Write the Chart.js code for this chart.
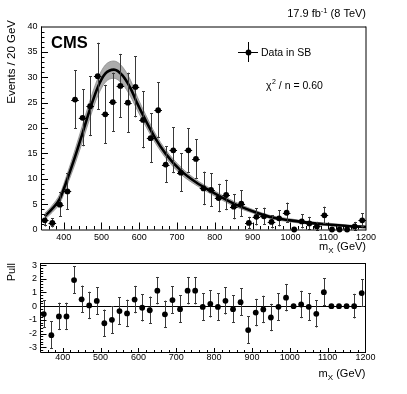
<!DOCTYPE html>
<html><head><meta charset="utf-8">
<script src="https://cdn.jsdelivr.net/npm/chart.js@4"></script>
<style>
html,body{margin:0;padding:0;background:#fff;}
#wrap{position:relative;width:407px;height:394px;overflow:hidden;}
#c1{position:absolute;left:0;top:0;}
#c2{position:absolute;left:0;top:252px;}
</style></head><body>
<div id="wrap"><canvas id="c1" width="407" height="258"></canvas><canvas id="c2" width="407" height="142"></canvas></div>
<script>
// ---- data ----
const binCenters = [350,370,390,410,430,450,470,490,510,530,550,570,590,610,630,650,670,690,710,730,750,770,790,810,830,850,870,890,910,930,950,970,990,1010,1030,1050,1070,1090,1110,1130,1150,1170,1190];
const counts = [1.8,1.3,4.9,7.5,25.6,22.0,24.3,30.2,22.7,25.1,28.3,25.0,28.1,21.6,18.0,23.5,12.8,15.6,11.2,15.6,13.9,8.1,7.8,6.2,6.8,4.5,5.1,1.3,2.5,2.6,1.5,2.2,3.3,0,1.6,1.2,0.6,2.8,0,0,0,0.6,1.8];
const countErr = [1.2,0.9,2.4,3.6,5.8,5.6,5.9,6.6,5.8,5.8,6.3,5.9,6.0,5.6,4.9,5.5,3.6,4.5,3.8,4.4,3.9,3.3,3.3,2.8,3.0,2.5,2.6,1.2,1.7,1.7,1.3,1.6,2.0,0,1.4,1.3,0.9,1.7,0,0,0,0.9,1.4];
const binHalfWidth = 10;
const fitMass = [350,370,390,410,430,450,470,490,510,533,555,577,595,617,643,670,710,750,790,850,900,950,1000,1050,1100,1150,1200];
const fitValues = [2.6,4.1,6.1,10.0,14.3,19.0,23.8,28.0,30.7,31.5,30.4,27.8,24.8,21.5,17.9,14.9,11.6,9.3,7.5,5.1,3.6,2.4,1.8,1.3,1.0,0.7,0.5];
const bandUpper = [3.2,4.8,7.0,11.1,15.7,20.6,25.5,29.7,32.4,33.2,32.1,29.4,26.1,22.6,18.8,15.7,12.3,9.85,8.0,5.55,3.95,2.7,2.1,1.55,1.25,0.9,0.7];
const bandLower = [2.0,3.4,5.2,8.9,12.9,17.4,22.1,26.3,29.0,29.8,28.7,26.2,23.5,20.4,17.0,14.1,10.9,8.75,7.0,4.65,3.25,2.1,1.5,1.05,0.75,0.5,0.3];
const pulls = [-0.58,-2.12,-0.75,-0.75,1.9,0.5,0.05,0.38,-1.25,-1.0,-0.36,-0.53,0.48,-0.12,-0.3,1.13,-0.6,0.44,-0.22,1.13,1.13,-0.06,0.17,-0.06,0.39,-0.22,0.29,-1.75,-0.47,-0.24,-0.83,-0.05,0.62,0,0.12,-0.05,-0.56,1.02,0,0,0,0,0.95];
const pullErr = [1,1,1,1,1,1,1,1,1,1,1,1,1,1,1,1,1,1,1,1,1,1,1,1,1,1,1,1,1,1,1,1,1,0,1,1,1,1,0,0,0,0.9,1];
const xTickLabels = [400,500,600,700,800,900,1000,1100,1200];
const yTickLabels = [0,5,10,15,20,25,30,35,40];
const pullTickLabels = [-3,-2,-1,0,1,2,3];

const FONT = '"Liberation Sans", Arial, Helvetica, sans-serif';

function pts(xs, ys){ return xs.map((v,i)=>({x:v,y:ys[i]})); }

function drawTicks(chart, o){
  const {ctx, chartArea:a, scales:{x,y}} = chart;
  ctx.save();
  ctx.strokeStyle = '#000'; ctx.lineWidth = 1;
  for(let k=Math.ceil(x.min/o.xMinor); k*o.xMinor<=x.max; k++){
    const v=k*o.xMinor; if(v<=x.min||v>=x.max) continue;
    const px=Math.round(x.getPixelForValue(v))+0.5;
    const len=(v%o.xMajor===0)?o.xMajLen:o.xMinLen;
    ctx.beginPath(); ctx.moveTo(px,a.bottom); ctx.lineTo(px,a.bottom-len); ctx.stroke();
  }
  for(let k=Math.ceil(y.min/o.yMinor-1e-9); k*o.yMinor<=y.max+1e-9; k++){
    const v=k*o.yMinor; if(v<=y.min+1e-9||v>=y.max-1e-9) continue;
    const r=v/o.yMajor; const major=Math.abs(r-Math.round(r))<1e-6;
    const py=Math.round(y.getPixelForValue(v))+0.5;
    ctx.beginPath(); ctx.moveTo(a.left,py); ctx.lineTo(a.left+(major?o.yMajLen:o.yMinLen),py); ctx.stroke();
  }
  ctx.beginPath();
  ctx.moveTo(a.left+0.5,a.top); ctx.lineTo(a.left+0.5,a.bottom+0.5); ctx.lineTo(a.right,a.bottom+0.5);
  ctx.stroke();
  ctx.beginPath(); ctx.moveTo(a.left,a.top+0.5); ctx.lineTo(a.right,a.top+0.5); ctx.stroke();
  ctx.beginPath(); ctx.moveTo(a.right,a.top); ctx.lineTo(a.right,a.bottom+1); ctx.stroke();
  ctx.fillStyle='#000';
  ctx.font = '9px '+FONT;
  ctx.textAlign='center'; ctx.textBaseline='middle';
  o.xLabels.forEach(v=>{ ctx.fillText(String(v), x.getPixelForValue(v), o.xLabelY); });
  ctx.textAlign='right';
  o.yLabels.forEach(v=>{ ctx.fillText(String(v), o.yLabelX, y.getPixelForValue(v)); });
  ctx.restore();
}

function drawMx(ctx, right, base){
  ctx.save();
  ctx.fillStyle='#000'; ctx.textBaseline='alphabetic'; ctx.textAlign='left';
  const f1='11px '+FONT, f2='8px '+FONT;
  ctx.font=f1; const w1=ctx.measureText('m').width, w3=ctx.measureText(' (GeV)').width;
  ctx.font=f2; const w2=ctx.measureText('X').width;
  let x0=right-(w1+w2+w3);
  ctx.font=f1; ctx.fillText('m',x0,base);
  ctx.font=f2; ctx.fillText('X',x0+w1,base+3);
  ctx.font=f1; ctx.fillText(' (GeV)',x0+w1+w2,base);
  ctx.restore();
}

function drawVTitle(ctx, text, xBase, yTop, size){
  ctx.save();
  ctx.translate(xBase,yTop); ctx.rotate(-Math.PI/2);
  ctx.font=size+'px '+FONT; ctx.fillStyle='#000'; ctx.textAlign='right'; ctx.textBaseline='alphabetic';
  ctx.fillText(text,0,0);
  ctx.restore();
}

function drawErrorBars(chart, xs, ys, es, hw, cap, color){
  const {ctx, scales:{x,y}} = chart;
  ctx.save();
  ctx.strokeStyle=color; ctx.lineWidth=1;
  xs.forEach((m,i)=>{
    const px=Math.round(x.getPixelForValue(m))+0.5;
    const py=y.getPixelForValue(ys[i]);
    if(es[i]>0){
      const t=y.getPixelForValue(ys[i]+es[i]), b=y.getPixelForValue(ys[i]-es[i]);
      ctx.beginPath(); ctx.moveTo(px,t); ctx.lineTo(px,b); ctx.stroke();
      ctx.beginPath(); ctx.moveTo(px-cap,Math.round(t)+0.5); ctx.lineTo(px+cap,Math.round(t)+0.5);
      ctx.moveTo(px-cap,Math.round(b)-0.5); ctx.lineTo(px+cap,Math.round(b)-0.5); ctx.stroke();
    }
    if(hw>0 && es[i]>0){
      const l=x.getPixelForValue(m-hw), r=x.getPixelForValue(m+hw);
      ctx.strokeStyle='#000';
      ctx.beginPath(); ctx.moveTo(l,Math.round(py)+0.5); ctx.lineTo(r,Math.round(py)+0.5); ctx.stroke();
      ctx.strokeStyle=color;
    }
  });
  ctx.restore();
}

const topPlugin = {
  id:'topDeco',
  beforeDatasetDraw(chart,args){
    if(args.index===3) drawErrorBars(chart, binCenters, counts, countErr, binHalfWidth, 1.5, '#3a3a3a');
  },
  afterDraw(chart){
    const ctx=chart.ctx;
    drawTicks(chart,{xMinor:20,xMajor:100,xMajLen:7,xMinLen:3.5,yMinor:1,yMajor:5,yMajLen:7,yMinLen:3.5,
      xLabels:xTickLabels,yLabels:yTickLabels,xLabelY:237.5,yLabelX:37.5});
    drawMx(ctx,366,250);
    drawVTitle(ctx,'Events / 20 GeV',14.5,20,11.5);
    ctx.save();
    ctx.fillStyle='#000';
    ctx.font='bold 16.5px '+FONT; ctx.textAlign='left'; ctx.textBaseline='alphabetic';
    ctx.fillText('CMS',51,47.5);
    const f1='11px '+FONT, f2='7.5px '+FONT;
    ctx.font=f1; const a1=ctx.measureText('17.9 fb').width, a3=ctx.measureText(' (8 TeV)').width;
    ctx.font=f2; const a2=ctx.measureText('-1').width;
    let x0=366-(a1+a2+a3);
    ctx.font=f1; ctx.fillText('17.9 fb',x0,17);
    ctx.font=f2; ctx.fillText('-1',x0+a1,12.5);
    ctx.font=f1; ctx.fillText(' (8 TeV)',x0+a1+a2,17);
    ctx.strokeStyle='#000'; ctx.lineWidth=1;
    ctx.beginPath(); ctx.moveTo(238,52.5); ctx.lineTo(258,52.5); ctx.moveTo(248.5,42); ctx.lineTo(248.5,62); ctx.stroke();
    ctx.beginPath(); ctx.arc(248.5,52.5,2.9,0,Math.PI*2); ctx.fill();
    ctx.font='10.5px '+FONT; ctx.fillText('Data in SB',261,56);
    ctx.font='10.5px '+FONT; const c1=ctx.measureText('\u03c7').width;
    ctx.fillText('\u03c7',266,89);
    ctx.font='7px '+FONT; const c2=ctx.measureText('2').width;
    ctx.fillText('2',266+c1+0.5,84);
    ctx.font='10.5px '+FONT; ctx.fillText(' / n = 0.60',266+c1+c2+0.5,89);
    ctx.restore();
  }
};

new Chart(document.getElementById('c1'),{
  type:'scatter',
  data:{datasets:[
    {label:'band hi',type:'line',data:pts(fitMass,bandUpper),borderColor:'#8c8c8c',borderWidth:0.8,pointRadius:0,fill:false,cubicInterpolationMode:'monotone',order:3},
    {label:'band lo',type:'line',data:pts(fitMass,bandLower),borderColor:'#8c8c8c',borderWidth:0.8,pointRadius:0,fill:'-1',backgroundColor:'rgba(140,140,140,0.72)',cubicInterpolationMode:'monotone',order:2},
    {label:'fit',type:'line',data:pts(fitMass,fitValues),borderColor:'#000',borderWidth:2.6,pointRadius:0,fill:false,cubicInterpolationMode:'monotone',order:1},
    {label:'Data in SB',data:pts(binCenters,counts),pointRadius:2.9,pointBackgroundColor:'#000',pointBorderWidth:0,clip:false,order:0}
  ]},
  options:{
    responsive:false,animation:false,devicePixelRatio:1,
    layout:{padding:{left:41,right:41,top:26.5,bottom:28.5}},
    plugins:{legend:{display:false},tooltip:{enabled:false}},
    scales:{x:{type:'linear',min:340,max:1200,display:false},y:{min:0,max:40,display:false}}
  },
  plugins:[topPlugin]
});

const pullPlugin = {
  id:'pullDeco',
  beforeDatasetDraw(chart,args){
    if(args.index===0){
      const {ctx,chartArea:a,scales:{y}}=chart;
      ctx.save(); ctx.strokeStyle='#000'; ctx.lineWidth=1;
      const py=Math.round(y.getPixelForValue(0))+0.5;
      ctx.beginPath(); ctx.moveTo(a.left,py); ctx.lineTo(a.right,py); ctx.stroke(); ctx.restore();
      drawErrorBars(chart, binCenters, pulls, pullErr, 0, 1.5, '#3a3a3a');
    }
  },
  afterDraw(chart){
    drawTicks(chart,{xMinor:20,xMajor:100,xMajLen:4,xMinLen:2,yMinor:0.2,yMajor:1,yMajLen:6.5,yMinLen:3.2,
      xLabels:xTickLabels,yLabels:pullTickLabels,xLabelY:105.5,yLabelX:37});
    drawMx(chart.ctx,365.5,124.5);
    drawVTitle(chart.ctx,'Pull',14.5,11,11);
  }
};

new Chart(document.getElementById('c2'),{
  type:'scatter',
  data:{datasets:[
    {label:'Pull',data:pts(binCenters,pulls),pointRadius:2.9,pointBackgroundColor:'#000',pointBorderWidth:0,clip:false}
  ]},
  options:{
    responsive:false,animation:false,devicePixelRatio:1,
    layout:{padding:{left:40,right:41.5,top:11,bottom:42}},
    plugins:{legend:{display:false},tooltip:{enabled:false}},
    scales:{x:{type:'linear',min:340,max:1200,display:false},y:{min:-3.35,max:3.15,display:false}}
  },
  plugins:[pullPlugin]
});
</script>
</body></html>
